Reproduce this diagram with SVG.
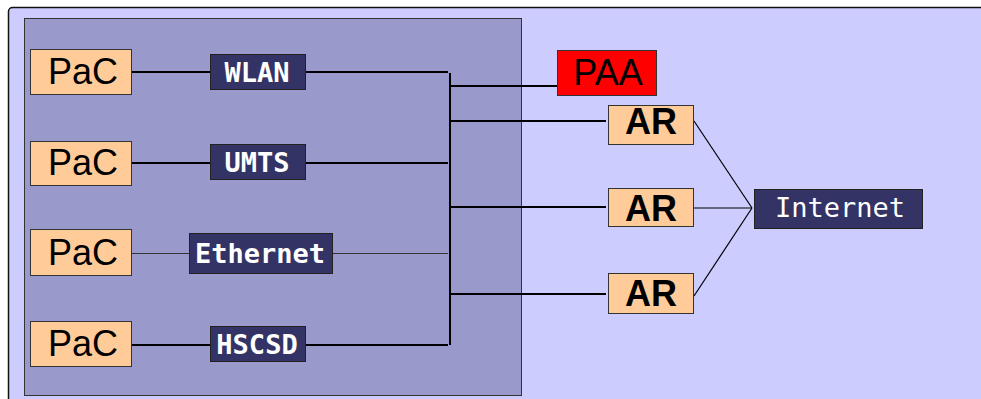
<svg xmlns="http://www.w3.org/2000/svg" width="981" height="399" viewBox="0 0 981 399">
<style>
.pac{fill:#ffcc99;stroke:#333333;stroke-width:1}
.dark{fill:#333366;stroke:#222222;stroke-width:1}
.sans{font-family:"Liberation Sans",Arial,sans-serif;font-size:36px;fill:#000;text-anchor:middle}
.mono{font-family:"DejaVu Sans Mono",monospace;font-size:27px;fill:#fff;text-anchor:middle}
.thick{stroke:#000;stroke-width:2;fill:none}
.thin{stroke:#333333;stroke-width:1;fill:none}
.thinb{stroke:#000;stroke-width:1.2;fill:none}
</style>
<rect x="0" y="0" width="981" height="399" fill="#ffffff"/>
<rect x="8.5" y="7.5" width="1000" height="420" rx="4" fill="#ccccff" stroke="#111111" stroke-width="1.5"/>
<rect id="domain" x="24.5" y="18.5" width="497" height="377" fill="#9999cc" stroke="#333333" stroke-width="1"/>
<g id="connectors">
<line class="thick" x1="132" y1="72" x2="210" y2="72"/>
<line class="thick" x1="306" y1="72" x2="448" y2="72"/>
<line class="thick" x1="132" y1="163" x2="210" y2="163"/>
<line class="thick" x1="306" y1="163" x2="448" y2="163"/>
<line class="thin" x1="132" y1="253.5" x2="189" y2="253.5"/>
<line class="thin" x1="332" y1="253.5" x2="448" y2="253.5"/>
<line class="thick" x1="132" y1="345" x2="210" y2="345"/>
<line class="thick" x1="306" y1="345" x2="448" y2="345"/>
<line class="thick" x1="450" y1="73" x2="450" y2="345"/>
<line class="thick" x1="451" y1="86" x2="557" y2="86"/>
<line class="thick" x1="451" y1="121" x2="606" y2="121"/>
<line class="thick" x1="451" y1="207" x2="606" y2="207"/>
<line class="thick" x1="451" y1="294" x2="606" y2="294"/>
<line class="thinb" x1="694" y1="121" x2="752" y2="208"/>
<line class="thinb" x1="694" y1="208" x2="752" y2="208"/>
<line class="thinb" x1="694" y1="296" x2="752" y2="208"/>
</g>
<g id="pac1"><rect class="pac" x="30.5" y="49.5" width="101" height="45"/><text class="sans" x="83" y="84">PaC</text></g>
<g id="pac2"><rect class="pac" x="30.5" y="141.5" width="101" height="44"/><text class="sans" x="83" y="175">PaC</text></g>
<g id="pac3"><rect class="pac" x="30.5" y="229.5" width="101" height="46"/><text class="sans" x="83" y="265">PaC</text></g>
<g id="pac4"><rect class="pac" x="30.5" y="321.5" width="101" height="45"/><text class="sans" x="83" y="356">PaC</text></g>
<g id="wlan"><rect class="dark" x="210.5" y="54.5" width="95" height="35"/><text class="mono" x="257" y="82" font-weight="bold">WLAN</text></g>
<g id="umts"><rect class="dark" x="210.5" y="144.5" width="95" height="35"/><text class="mono" x="257" y="172" font-weight="bold">UMTS</text></g>
<g id="ethernet"><rect class="dark" x="189.5" y="233.5" width="143" height="40"/><text class="mono" x="260" y="263" font-weight="bold" font-size="28">Ethernet</text></g>
<g id="hscsd"><rect class="dark" x="210.5" y="326.5" width="95" height="35"/><text class="mono" x="257" y="354" font-weight="bold">HSCSD</text></g>
<g id="paa"><rect x="557.5" y="50.5" width="99" height="45" fill="#ff0000" stroke="#333333" stroke-width="1"/><text class="sans" x="608" y="85">PAA</text></g>
<g id="ar1"><rect class="pac" x="608.5" y="105.5" width="85" height="39"/><text class="sans" x="651" y="134" font-weight="bold">AR</text></g>
<g id="ar2"><rect class="pac" x="608.5" y="188.5" width="85" height="38"/><text class="sans" x="651" y="221" font-weight="bold">AR</text></g>
<g id="ar3"><rect class="pac" x="608.5" y="273.5" width="85" height="40"/><text class="sans" x="651" y="306" font-weight="bold">AR</text></g>
<g id="internet"><rect class="dark" x="754.5" y="189.5" width="168" height="39"/><text class="mono" x="840" y="217" font-size="28">Internet</text></g>
</svg>
